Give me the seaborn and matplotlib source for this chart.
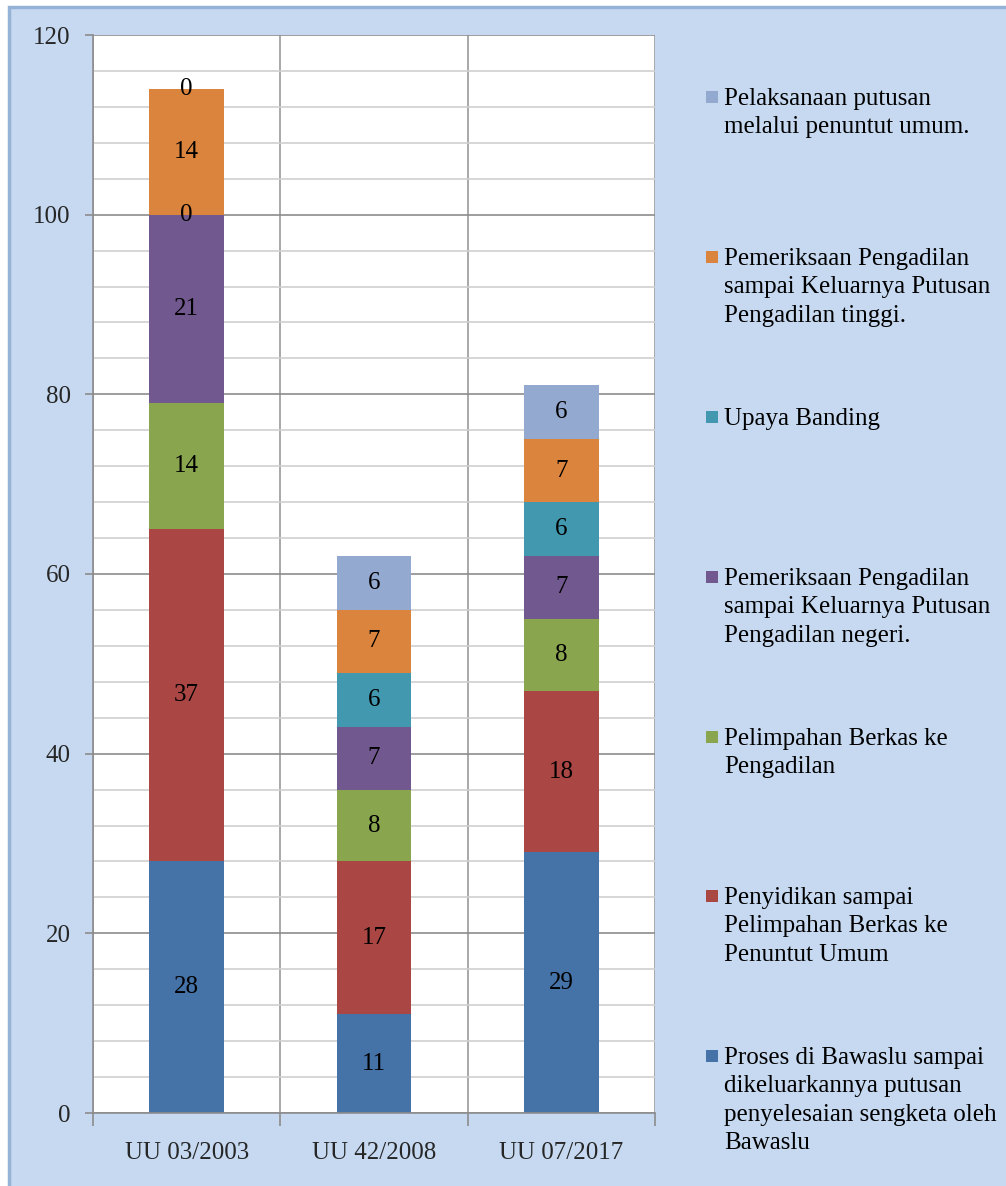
import matplotlib
matplotlib.use("Agg")
import matplotlib.pyplot as plt
from matplotlib.patches import Rectangle
from matplotlib.ticker import MultipleLocator
import seaborn as sns
import pandas as pd
import numpy as np

# Laws compared
categories = ["UU 03/2003", "UU 42/2008", "UU 07/2017"]

# Duration of each stage (days), listed from bottom of the stack upward
proses_bawaslu = [28, 11, 29]
penyidikan = [37, 17, 18]
pelimpahan = [14, 8, 8]
pemeriksaan_negeri = [21, 7, 7]
upaya_banding = [0, 6, 6]
pemeriksaan_tinggi = [14, 7, 7]
pelaksanaan = [0, 6, 6]

stage_labels = [
    "Proses di Bawaslu sampai\ndikeluarkannya putusan\npenyelesaian sengketa oleh\nBawaslu",
    "Penyidikan sampai\nPelimpahan Berkas ke\nPenuntut Umum",
    "Pelimpahan Berkas ke\nPengadilan",
    "Pemeriksaan Pengadilan\nsampai Keluarnya Putusan\nPengadilan negeri.",
    "Upaya Banding",
    "Pemeriksaan Pengadilan\nsampai Keluarnya Putusan\nPengadilan tinggi.",
    "Pelaksanaan putusan\nmelalui penuntut umum.",
]
stage_values = [proses_bawaslu, penyidikan, pelimpahan, pemeriksaan_negeri,
                upaya_banding, pemeriksaan_tinggi, pelaksanaan]
stage_colors = ["#4572A7", "#AA4643", "#89A54E", "#71588F",
                "#4198AF", "#DB843D", "#93A9CF"]

sns.set_theme(style="white")
plt.rcParams["font.family"] = ["Liberation Serif", "DejaVu Serif"]

W, H = 1006, 1186
fig = plt.figure(figsize=(W / 100, H / 100), dpi=100, facecolor="white")

# light blue chart panel with a darker rim
fig.patches.append(Rectangle((9 / W, -0.01), 1.02, 1 - 7 / H + 0.01,
                             transform=fig.transFigure, facecolor="#C6D9F1",
                             edgecolor="#95B3D7", linewidth=2.5, zorder=-10))

left, right, top, bottom = 93, 655, 35, 1113
ax = fig.add_axes([left / W, 1 - bottom / H, (right - left) / W, (bottom - top) / H])
ax.set_zorder(1)
ax.set_facecolor("white")
ax.set_axisbelow(True)

df = pd.DataFrame({"law": categories})
base = np.zeros(len(categories))
for vals, lab, col in zip(stage_values, stage_labels, stage_colors):
    df["v"] = vals
    sns.barplot(data=df, x="law", y="v", order=categories, color=col,
                saturation=1, width=0.4, errorbar=None, linewidth=0,
                bottom=base.copy(), ax=ax)
    ax.bar_label(ax.containers[-1], labels=[str(v) for v in vals],
                 label_type="center", fontsize=18, color="black")
    base = base + np.array(vals)

ax.set_xlim(-0.5, 2.5)
ax.set_ylim(0, 120)
ax.set_xlabel("")
ax.set_ylabel("")

# gridlines: major every 20, minor every 4, vertical at category borders
ax.yaxis.set_major_locator(MultipleLocator(20))
ax.yaxis.set_minor_locator(MultipleLocator(4))
ax.grid(axis="y", which="major", color="#8C8C8C", linewidth=1.2)
ax.grid(axis="y", which="minor", color="#D0D0D0", linewidth=1.2)
ax.set_xticks([-0.5, 0.5, 1.5, 2.5])
ax.set_xticklabels([])
ax.set_xticks([0, 1, 2], minor=True)
ax.set_xticklabels(categories, minor=True)
ax.grid(axis="x", which="major", color="#9A9A9A", linewidth=1.2)

ax.tick_params(axis="y", which="major", direction="out", length=6, width=1.2,
               color="#8C8C8C", pad=10, labelsize=18, left=True)
ax.tick_params(axis="y", which="minor", length=0)
ax.tick_params(axis="x", which="major", direction="out", length=9, width=1.2,
               color="#8C8C8C", bottom=True)
ax.tick_params(axis="x", which="minor", length=0, pad=21, labelsize=18)

for side in ["top", "right"]:
    ax.spines[side].set_visible(False)
for side in ["left", "bottom"]:
    ax.spines[side].set_color("#8C8C8C")
    ax.spines[side].set_linewidth(1.2)

# legend, top entry first, evenly spaced down the right side
entry_y = [97, 257, 417, 577, 737, 896, 1056]
for y, lab, col in zip(entry_y, stage_labels[::-1], stage_colors[::-1]):
    fig.patches.append(Rectangle((706 / W, 1 - (y + 6) / H), 12 / W, 12 / H,
                                 transform=fig.transFigure, facecolor=col,
                                 edgecolor="none", zorder=3))
    fig.text(724 / W, 1 - (y - 9) / H, lab, fontsize=18, va="top", ha="left",
             linespacing=1.38, color="black")

fig.savefig("out.png", dpi=100, facecolor="white")
